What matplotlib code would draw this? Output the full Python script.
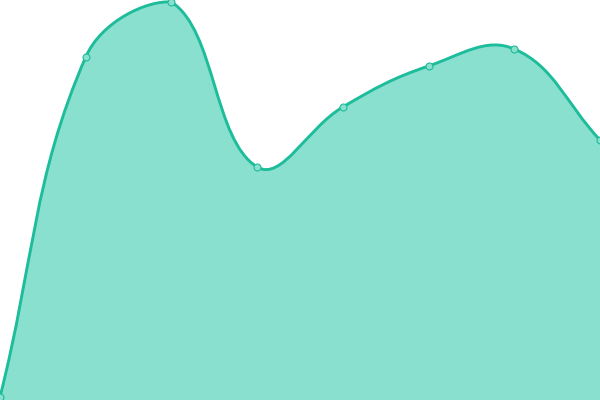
import numpy as np
import matplotlib; matplotlib.use('Agg')
import matplotlib.pyplot as plt
from matplotlib.path import Path
from matplotlib.patches import PathPatch

# --- data
categories = ['A', 'B', 'C', 'D', 'E', 'F', 'G', 'H']
values = [3, 343, 398, 233, 293, 334, 351, 260]

line_color = '#1dbc9b'
area_color = '#8ae0cf'

W, H = 600, 400
y_max = 400

# --- spline like chart.js (tension, control points capped to the plot area)
def spline_path(xs, ys, sx, sy, tension=0.4):
    px = np.array(xs, dtype=float) * sx
    py = np.array(ys, dtype=float) * sy
    n = len(px)
    cp_prev = []
    cp_next = []
    for i in range(n):
        p = max(i - 1, 0)
        q = min(i + 1, n - 1)
        d01 = np.hypot(px[i] - px[p], py[i] - py[p])
        d12 = np.hypot(px[q] - px[i], py[q] - py[i])
        tot = d01 + d12
        s01 = d01 / tot if tot else 0
        s12 = d12 / tot if tot else 0
        fa = tension * s01
        fb = tension * s12
        vx = px[q] - px[p]
        vy = py[q] - py[p]
        a = (px[i] - fa * vx, py[i] - fa * vy)
        b = (px[i] + fb * vx, py[i] + fb * vy)
        cp_prev.append(a)
        cp_next.append(b)
    cap = lambda c: (min(max(c[0], 0), W), min(max(c[1], 0), H))
    verts = [(px[0], py[0])]
    codes = [Path.MOVETO]
    for i in range(n - 1):
        verts += [cap(cp_next[i]), cap(cp_prev[i + 1]), (px[i + 1], py[i + 1])]
        codes += [Path.CURVE4] * 3
    verts = [(a / sx, b / sy) for a, b in verts]
    return verts, codes

x = np.arange(len(values))
fig = plt.figure(figsize=(6, 4), dpi=100, facecolor='w')
ax = fig.add_axes([0, 0, 1, 1])
ax.set_xlim(0, len(values) - 1)
ax.set_ylim(0, y_max)
ax.axis('off')

verts, codes = spline_path(x, values, W / (len(values) - 1), H / y_max)

fill_verts = verts + [(x[-1], 0), (x[0], 0), verts[0]]
fill_codes = codes + [Path.LINETO, Path.LINETO, Path.CLOSEPOLY]
ax.add_patch(PathPatch(Path(fill_verts, fill_codes), facecolor=area_color, edgecolor='none'))
ax.add_patch(PathPatch(Path(verts, codes), facecolor='none', edgecolor=line_color, lw=2.1))

ax.plot(x, values, 'o', ms=5, mfc=area_color, mec=line_color, mew=0.8, zorder=5)

plt.savefig('out.png', dpi=100)
